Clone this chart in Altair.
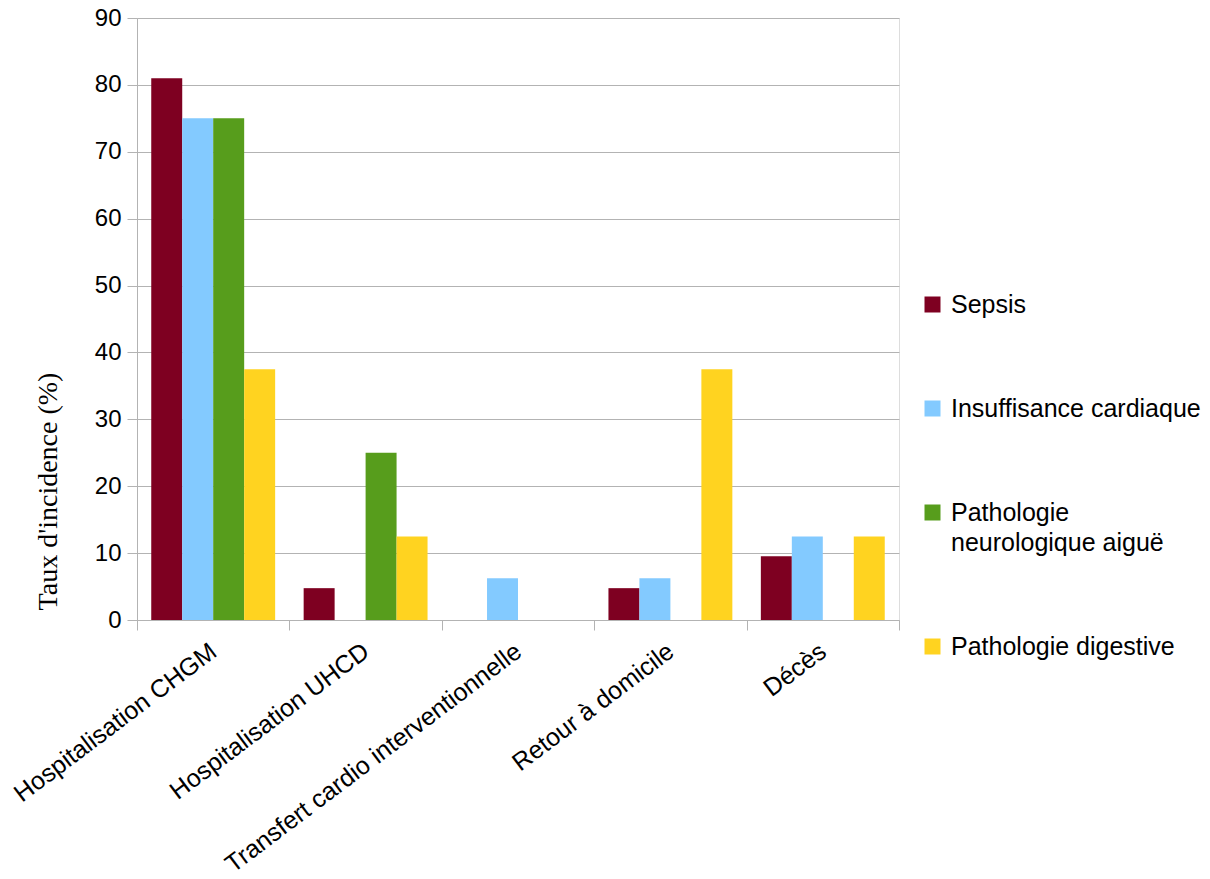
import altair as alt
import pandas as pd

categories = ["Hospitalisation CHGM", "Hospitalisation UHCD", "Transfert cardio interventionnelle", "Retour à domicile", "Décès"]
series = ["Sepsis", "Insuffisance cardiaque", "Pathologie neurologique aiguë", "Pathologie digestive"]
sepsis = [81.0, 4.76, 0, 4.76, 9.52]
insuffisance = [75.0, 0, 6.25, 6.25, 12.5]
neuro = [75.0, 25.0, 0, 0, 0]
digestive = [37.5, 12.5, 0, 37.5, 12.5]
colors = ["#7E0021", "#83CAFF", "#579D1C", "#FFD320"]

rows = []
for s, vals in zip(series, [sepsis, insuffisance, neuro, digestive]):
    for c, v in zip(categories, vals):
        rows.append({"cat": c, "serie": s, "val": v})
df = pd.DataFrame(rows)

grey = "#b3b3b3"
font = "Liberation Sans"

chart = alt.Chart(df).mark_bar().encode(
    x=alt.X("cat:N", sort=categories, title=None,
            scale=alt.Scale(paddingInner=0, paddingOuter=0),
            axis=alt.Axis(labelAngle=-37, labelAlign="right", labelBaseline="middle",
                          labelFontSize=25, labelFont=font, labelColor="#000",
                          labelPadding=18, tickBand="extent", tickSize=10,
                          tickColor=grey, domainColor=grey, labelLimit=600)),
    xOffset=alt.XOffset("serie:N", sort=series,
                        scale=alt.Scale(paddingInner=0, paddingOuter=0.46)),
    y=alt.Y("val:Q", scale=alt.Scale(domain=[0, 90]),
            title="Taux d'incidence (%)",
            axis=alt.Axis(values=list(range(0, 91, 10)), labelFontSize=24, labelFont=font,
                          labelColor="#000", tickSize=10, tickColor=grey, domainColor=grey,
                          gridColor=grey, labelPadding=6,
                          titleFont="Liberation Serif", titleFontSize=28,
                          titleFontWeight="normal", titleColor="#000",
                          titleX=-103, titleY=473, titleAngle=270,
                          titleAlign="center", titleBaseline="top")),
    color=alt.Color("serie:N", sort=series,
                    scale=alt.Scale(domain=series, range=colors),
                    legend=alt.Legend(title=None, orient="none", legendX=783, legendY=282,
                                      symbolType="M-1,-2H1V0H-1Z", symbolSize=256,
                                      symbolStrokeWidth=0,
                                      labelFontSize=25, labelFont=font, labelColor="#000",
                                      labelLimit=400, rowPadding=78,
                                      labelExpr="datum.label == 'Pathologie neurologique aiguë' ? ['Pathologie', 'neurologique aiguë'] : datum.label",
                                      labelBaseline="alphabetic", labelOffset=6)),
).properties(
    width=762, height=602,
    padding={"left": 129, "top": 10, "right": 302, "bottom": 250},
    autosize="none",
).configure_view(stroke=grey).configure(
    background="white",
    style={"guide-label": {"lineHeight": 30}},
)

chart.save("out.html", embed_options={"renderer": "svg", "actions": False})
